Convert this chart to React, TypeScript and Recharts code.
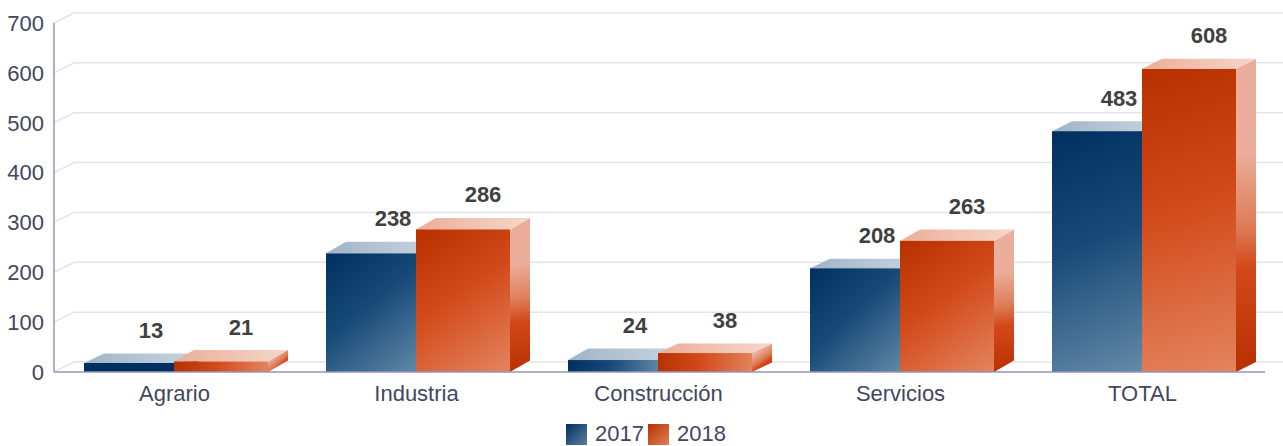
import { Bar, BarChart, CartesianGrid, LabelList, Legend, XAxis, YAxis } from 'recharts';

const categories = ['Agrario', 'Industria', 'Construcción', 'Servicios', 'TOTAL'];
const values2017 = [13, 238, 24, 208, 483];
const values2018 = [21, 286, 38, 263, 608];
const yTicks = [0, 100, 200, 300, 400, 500, 600, 700];

const chartData = categories.map((name, i) => ({
  name,
  y2017: values2017[i],
  y2018: values2018[i],
}));

const DEPTH_X = 20;
const DEPTH_Y = 10;
const FONT = '"Liberation Sans", Arial, sans-serif';
const TICK_COLOR = '#43465f';

// The source renderer rounds the top face a little differently per bar.
const topDepth: Record<string, number[]> = {
  blue: [9.5, 11.5, 11.5, 9.5, 10],
  orange: [11.5, 11.5, 9.5, 11.5, 10],
};

const palette: Record<string, any> = {
  blue: {
    front: ['#00305f', '#174a78', '#648aa8'],
    side: ['#a0b4c8', '#a0b4c8', '#7a94ae', '#174a78', '#00305f'],
  },
  orange: {
    front: ['#b83000', '#d24a1a', '#e4845e'],
    side: ['#eaae9a', '#eaae9a', '#de7d58', '#d2481a', '#b83000'],
  },
};

// Front face, top face and side face of one extruded bar.
function Bar3D(props: any) {
  const { x, y, width, height, prefix, index } = props;
  const colors = palette[prefix];
  const dy = topDepth[prefix][index] ?? DEPTH_Y;
  const top = `M${x},${y} l${DEPTH_X},${-dy} h${width} l${-DEPTH_X},${dy} Z`;
  const side = `M${x + width},${y} l${DEPTH_X},${-dy} v${height} l${-DEPTH_X},${dy} Z`;
  // bars held up by minPointSize are a flat colour in the reference
  const frontFill = height <= 9 ? colors.front[0] : `url(#${prefix}Front${index})`;
  return (
    <g>
      <defs>
        {/* the gradient line runs corner to corner in pixels, so it depends on each bar's size */}
        <linearGradient
          id={`${prefix}Front${index}`}
          gradientUnits="userSpaceOnUse"
          x1={x}
          y1={y}
          x2={x + width}
          y2={y + height}
        >
          <stop offset="0%" stopColor={colors.front[0]} />
          <stop offset="45%" stopColor={colors.front[1]} />
          <stop offset="100%" stopColor={colors.front[2]} />
        </linearGradient>
        <linearGradient
          id={`${prefix}Side${index}`}
          gradientUnits="userSpaceOnUse"
          x1={x + width}
          y1={y - dy}
          x2={x + width + DEPTH_X}
          y2={y + height}
        >
          <stop offset="0%" stopColor={colors.side[0]} />
          <stop offset="30%" stopColor={colors.side[1]} />
          <stop offset="53%" stopColor={colors.side[2]} />
          <stop offset="67%" stopColor={colors.side[3]} />
          <stop offset="100%" stopColor={colors.side[4]} />
        </linearGradient>
      </defs>
      <path d={side} fill={`url(#${prefix}Side${index})`} />
      <path d={top} fill={`url(#${prefix}Top)`} />
      <rect x={x} y={y} width={width} height={height} fill={frontFill} />
    </g>
  );
}

function GridLine3D(props: any) {
  const { x1, x2, y1 } = props;
  return (
    <path
      d={`M${x1},${y1} l${DEPTH_X},${-DEPTH_Y} H${x2 + DEPTH_X}`}
      fill="none"
      stroke="#e3e3ee"
      strokeWidth={1.5}
    />
  );
}

function ValueLabel(props: any) {
  const { x, y, width, value, index, prefix } = props;
  return (
    <text
      x={x + width / 2 + 20}
      y={y - topDepth[prefix][index] - 23}
      textAnchor="middle"
      dominantBaseline="central"
      fontFamily={FONT}
      fontSize={22}
      fontWeight="bold"
      fill="#404040"
    >
      {value}
    </text>
  );
}

function LegendContent() {
  const items = [
    { label: '2017', bg: 'linear-gradient(135deg, #00305f, #5f7f9f)' },
    { label: '2018', bg: 'linear-gradient(135deg, #b83000, #e28058)' },
  ];
  return (
    <div
      style={{
        display: 'flex',
        justifyContent: 'center',
        gap: 4,
        paddingLeft: 27,
        fontFamily: FONT,
        fontSize: 22,
        color: TICK_COLOR,
      }}
    >
      {items.map((it) => (
        <div key={it.label} style={{ display: 'flex', alignItems: 'center', gap: 8 }}>
          <span style={{ display: 'block', width: 21, height: 21, background: it.bg }} />
          <span>{it.label}</span>
        </div>
      ))}
    </div>
  );
}

export default function App() {
  return (
    <div style={{ position: 'absolute', left: 0, top: 0, width: 1283, height: 446, overflow: 'hidden' }}>
      <BarChart
        width={1283}
        height={446}
        data={chartData}
        margin={{ top: 23, right: 18, bottom: 0, left: 0 }}
        barSize={94}
        barGap={-4}
        style={{ overflow: 'visible' }}
      >
        <defs>
          <linearGradient id="blueTop" x1="0" y1="0" x2="1" y2="0">
            <stop offset="0%" stopColor="#a0b4c8" />
            <stop offset="100%" stopColor="#c8d5e0" />
          </linearGradient>
          <linearGradient id="orangeTop" x1="0" y1="0" x2="1" y2="0">
            <stop offset="0%" stopColor="#ecae98" />
            <stop offset="100%" stopColor="#f6d6ca" />
          </linearGradient>
        </defs>
        <CartesianGrid vertical={false} horizontal={(p: any) => <GridLine3D key={p.y1} {...p} />} />
        <XAxis
          dataKey="name"
          height={48}
          tickLine={false}
          tickMargin={7}
          padding={{ left: 1, right: 0 }}
          axisLine={{ stroke: '#9495bb', strokeWidth: 1.5 }}
          tick={{ fill: TICK_COLOR, fontSize: 22, fontFamily: FONT, dx: -1.5 }}
        />
        <YAxis
          width={54}
          domain={[0, 700]}
          ticks={yTicks}
          interval={0}
          tickLine={false}
          tickMargin={4}
          axisLine={{ stroke: '#9495bb', strokeWidth: 1.5 }}
          tick={{ fill: TICK_COLOR, fontSize: 22, fontFamily: FONT }}
        />
        <Legend content={<LegendContent />} verticalAlign="bottom" wrapperStyle={{ bottom: -1 }} />
        <Bar
          dataKey="y2017"
          minPointSize={9}
          isAnimationActive={false}
          shape={(p: any) => <Bar3D {...p} prefix="blue" />}
        >
          <LabelList dataKey="y2017" content={<ValueLabel prefix="blue" />} />
        </Bar>
        <Bar
          dataKey="y2018"
          isAnimationActive={false}
          shape={(p: any) => <Bar3D {...p} prefix="orange" />}
        >
          <LabelList dataKey="y2018" content={<ValueLabel prefix="orange" />} />
        </Bar>
      </BarChart>
    </div>
  );
}
